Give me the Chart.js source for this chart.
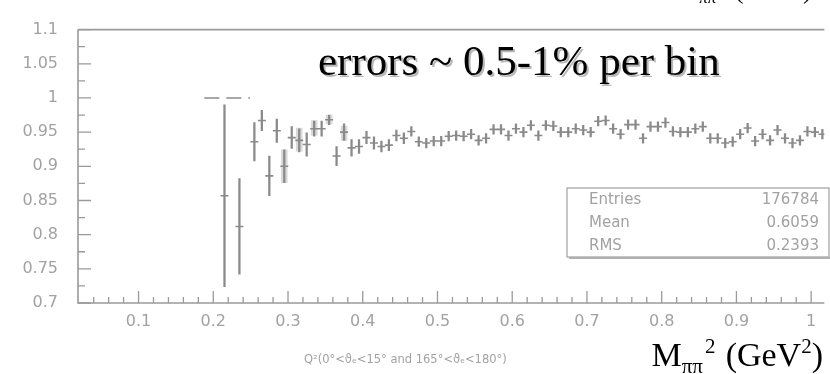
<!DOCTYPE html>
<html>
<head>
<meta charset="utf-8">
<script src="https://cdn.jsdelivr.net/npm/chart.js@4.4.0/dist/chart.umd.min.js"></script>
<style>
  html, body { margin: 0; padding: 0; background: #fff; }
  #wrap { width: 830px; height: 374px; }
</style>
</head>
<body>
<div id="wrap"><canvas id="ratioChart" width="830" height="374"></canvas></div>
<script>
// bin centres in M_pipi^2 (GeV^2)
const binCenters = [
  0.215, 0.235, 0.255, 0.265, 0.275, 0.285, 0.295, 0.305, 0.315, 0.325,
  0.335, 0.345, 0.355, 0.365, 0.375, 0.385, 0.395, 0.405, 0.415, 0.425,
  0.435, 0.445, 0.455, 0.465, 0.475, 0.485, 0.495, 0.505, 0.515, 0.525,
  0.535, 0.545, 0.555, 0.565, 0.575, 0.585, 0.595, 0.605, 0.615, 0.625,
  0.635, 0.645, 0.655, 0.665, 0.675, 0.685, 0.695, 0.705, 0.715, 0.725,
  0.735, 0.745, 0.755, 0.765, 0.775, 0.785, 0.795, 0.805, 0.815, 0.825,
  0.835, 0.845, 0.855, 0.865, 0.875, 0.885, 0.895, 0.905, 0.915, 0.925,
  0.935, 0.945, 0.955, 0.965, 0.975, 0.985, 0.995, 1.005, 1.015
];
const ratioValues = [
  0.857, 0.812, 0.936, 0.967, 0.886, 0.952, 0.900, 0.942, 0.938, 0.932,
  0.955, 0.955, 0.968, 0.915, 0.950, 0.927, 0.929, 0.942, 0.934, 0.929,
  0.931, 0.945, 0.941, 0.951, 0.936, 0.934, 0.937, 0.937, 0.944, 0.945,
  0.944, 0.947, 0.938, 0.941, 0.954, 0.954, 0.945, 0.955, 0.950, 0.960,
  0.945, 0.960, 0.959, 0.950, 0.950, 0.955, 0.953, 0.950, 0.966, 0.967,
  0.955, 0.947, 0.961, 0.961, 0.941, 0.958, 0.958, 0.964, 0.951, 0.950,
  0.950, 0.955, 0.958, 0.941, 0.941, 0.934, 0.936, 0.947, 0.956, 0.937,
  0.947, 0.938, 0.953, 0.941, 0.934, 0.938, 0.951, 0.950, 0.947
];
const ratioErrors = [
  0.133, 0.070, 0.028, 0.015, 0.029, 0.017, 0.024, 0.016, 0.017, 0.017,
  0.011, 0.011, 0.007, 0.014, 0.012, 0.012, 0.010, 0.009, 0.009, 0.008,
  0.008, 0.008, 0.008, 0.007, 0.007, 0.007, 0.007, 0.007, 0.007, 0.007,
  0.007, 0.007, 0.007, 0.007, 0.007, 0.007, 0.007, 0.007, 0.007, 0.007,
  0.007, 0.007, 0.007, 0.007, 0.007, 0.007, 0.007, 0.007, 0.007, 0.007,
  0.007, 0.007, 0.007, 0.007, 0.007, 0.007, 0.007, 0.007, 0.007, 0.007,
  0.007, 0.007, 0.007, 0.007, 0.007, 0.007, 0.007, 0.007, 0.007, 0.007,
  0.007, 0.007, 0.007, 0.007, 0.007, 0.007, 0.007, 0.007, 0.007
];

// light grey bands on a few low-mass bins
const bandBins = [0.295, 0.315, 0.335, 0.355, 0.375];
const bandLow  = [0.876, 0.922, 0.945, 0.962, 0.938];
const bandHigh = [0.924, 0.956, 0.967, 0.975, 0.959];

// dashed marker at ratio 1
const dashX = [0.188, 0.249];
const dashY = [1, 1];

const xTicks = [0.1, 0.2, 0.3, 0.4, 0.5, 0.6, 0.7, 0.8, 0.9, 1];
const yTicks = [0.7, 0.75, 0.8, 0.85, 0.9, 0.95, 1, 1.05, 1.1];

const statLabels = ['Entries', 'Mean', 'RMS'];
const statValues = ['176784', '0.6059', '0.2393'];

const GREY = '#8a8a8a';
const LABEL_GREY = '#a2a2a2';

const errData = binCenters.map((x, i) => ({ x: x, y: [ratioValues[i] - ratioErrors[i], ratioValues[i] + ratioErrors[i]] }));
const pointData = binCenters.map((x, i) => ({ x: x, y: ratioValues[i] }));
const bandData = bandBins.map((x, i) => ({ x: x, y: [bandLow[i], bandHigh[i]] }));
const dashData = dashX.map((x, i) => ({ x: x, y: dashY[i] }));

// ROOT-like frame: inner ticks, top border, stats box and texts
const framePlugin = {
  id: 'frame',
  beforeDatasetsDraw(chart) {
    const c = chart.ctx;
    const a = chart.chartArea;
    const xs = chart.scales.x;
    const ys = chart.scales.y;
    c.save();
    c.strokeStyle = '#9a9a9a';
    c.lineWidth = 1.6;
    c.beginPath();
    c.moveTo(a.left, a.top); c.lineTo(a.right, a.top);
    c.moveTo(a.left, a.top); c.lineTo(a.left, a.bottom);
    c.lineTo(a.right, a.bottom);
    c.stroke();

    c.lineWidth = 1.3;
    c.beginPath();
    for (let i = 0; i < xTicks.length; i++) {
      const px = xs.getPixelForValue(xTicks[i]);
      c.moveTo(px, a.bottom); c.lineTo(px, a.bottom - 12);
      for (let k = 1; k < 5; k++) {
        const mp = xs.getPixelForValue(xTicks[i] - k * 0.02);
        if (mp > a.left + 3) { c.moveTo(mp, a.bottom); c.lineTo(mp, a.bottom - 6); }
      }
    }
    for (let i = 0; i < yTicks.length; i++) {
      const py = ys.getPixelForValue(yTicks[i]);
      c.moveTo(a.left, py); c.lineTo(a.left + 13, py);
      if (i > 0) {
        const mp = ys.getPixelForValue((yTicks[i] + yTicks[i - 1]) / 2);
        c.moveTo(a.left, mp); c.lineTo(a.left + 7, mp);
      }
    }
    c.stroke();
    c.restore();
  },
  afterDraw(chart) {
    const c = chart.ctx;
    c.save();

    // stats box
    const bx = 567, by = 188, bw = 262, bh = 69;
    c.fillStyle = '#fff';
    c.fillRect(bx, by, bw, bh);
    c.strokeStyle = '#a0a0a0';
    c.lineWidth = 1.2;
    c.strokeRect(bx, by, bw, bh);
    c.fillStyle = '#b0b0b0';
    c.fillRect(bx + 2, by + bh, bw, 2);
    c.font = '15px "DejaVu Sans"';
    c.fillStyle = LABEL_GREY;
    c.textBaseline = 'middle';
    for (let i = 0; i < statLabels.length; i++) {
      const ty = by + 12 + i * 23;
      c.textAlign = 'left';
      c.fillText(statLabels[i], bx + 22, ty);
      c.textAlign = 'right';
      c.fillText(statValues[i], 819, ty);
    }

    // annotation
    c.textAlign = 'left';
    c.textBaseline = 'alphabetic';
    c.font = '43px "Liberation Serif"';
    c.fillStyle = '#b8b8b8';
    c.fillText('errors ~ 0.5-1% per bin', 320, 77);
    c.fillStyle = '#000';
    c.fillText('errors ~ 0.5-1% per bin', 318, 75);

    // caption under the axis
    c.font = '11.5px "DejaVu Sans"';
    c.fillStyle = LABEL_GREY;
    c.textBaseline = 'middle';
    c.fillText('Q\u00b2(0\u00b0<\u03d1\u2091<15\u00b0 and 165\u00b0<\u03d1\u2091<180\u00b0)', 304, 360);

    // axis title, bottom right (right edge at 823)
    drawMassLabel(c, 823, 366, 34, '#000');
    // same label cut off at the top edge
    drawMassLabel(c, 812, -2, 27, '#000');
    c.restore();
  }
};

// draws "M_pipi^2 (GeV^2)" so that it ends at xRight
function drawMassLabel(c, xRight, base, size, color) {
  const sub = Math.round(size * 0.62);
  const big = size + 'px "Liberation Serif"';
  const small = sub + 'px "Liberation Serif"';
  c.font = big;
  const wM = c.measureText('M').width;
  const wG = c.measureText('(GeV').width;
  const wP = c.measureText(')').width;
  c.font = small;
  const wS = c.measureText('\u03c0\u03c0').width;
  const w2 = c.measureText('2').width;
  const gap = size * 0.3;
  let px = xRight - (wM + wS + 2 + w2 + gap + wG + w2 + wP);

  c.fillStyle = color;
  c.textBaseline = 'alphabetic';
  c.textAlign = 'left';
  c.font = big;
  c.fillText('M', px, base);
  px += wM;
  c.font = small;
  c.fillText('\u03c0\u03c0', px, base + size * 0.2);
  c.fillText('2', px + wS + 2, base - size * 0.38);
  px += wS + 2 + w2 + gap;
  c.font = big;
  c.fillText('(GeV', px, base);
  px += wG;
  c.font = small;
  c.fillText('2', px, base - size * 0.38);
  px += w2;
  c.font = big;
  c.fillText(')', px, base);
}

const ctx = document.getElementById('ratioChart').getContext('2d');
new Chart(ctx, {
  type: 'bar',
  data: {
    datasets: [
      { label: 'band', data: bandData, backgroundColor: '#d9d9d9', barThickness: 6, grouped: false, order: 3 },
      { label: 'error', data: errData, backgroundColor: GREY, barThickness: 1.6, grouped: false, order: 2 },
      {
        type: 'line', label: 'ratio', data: pointData, showLine: false,
        pointStyle: 'line', pointRadius: 4, pointBorderWidth: 1.6,
        pointBorderColor: GREY, pointBackgroundColor: GREY, order: 1
      },
      {
        type: 'line', label: 'one', data: dashData, borderColor: GREY, borderWidth: 1.6,
        borderDash: [15, 7], pointRadius: 0, order: 0
      }
    ]
  },
  options: {
    responsive: false,
    animation: false,
    layout: { padding: { top: 15, right: 0, left: 0, bottom: 0 } },
    plugins: { legend: { display: false }, tooltip: { enabled: false } },
    scales: {
      x: {
        type: 'linear',
        offset: false,
        min: 0.019,
        max: 1.0177,
        grid: { display: false, drawTicks: false },
        border: { display: false },
        afterBuildTicks: s => { s.ticks = xTicks.map(v => ({ value: v })); },
        afterFit: s => { s.height = 71; },
        ticks: {
          padding: 9, maxRotation: 0, autoSkip: false, color: LABEL_GREY,
          font: { family: 'DejaVu Sans', size: 16 },
          callback: v => String(v)
        }
      },
      y: {
        min: 0.7,
        max: 1.1,
        grid: { display: false, drawTicks: false },
        border: { display: false },
        afterBuildTicks: s => { s.ticks = yTicks.map(v => ({ value: v })); },
        afterFit: s => { s.width = 78; },
        ticks: {
          padding: 20, autoSkip: false, color: LABEL_GREY,
          font: { family: 'DejaVu Sans', size: 16 },
          callback: v => String(v)
        }
      }
    }
  },
  plugins: [framePlugin]
});
</script>
</body>
</html>
